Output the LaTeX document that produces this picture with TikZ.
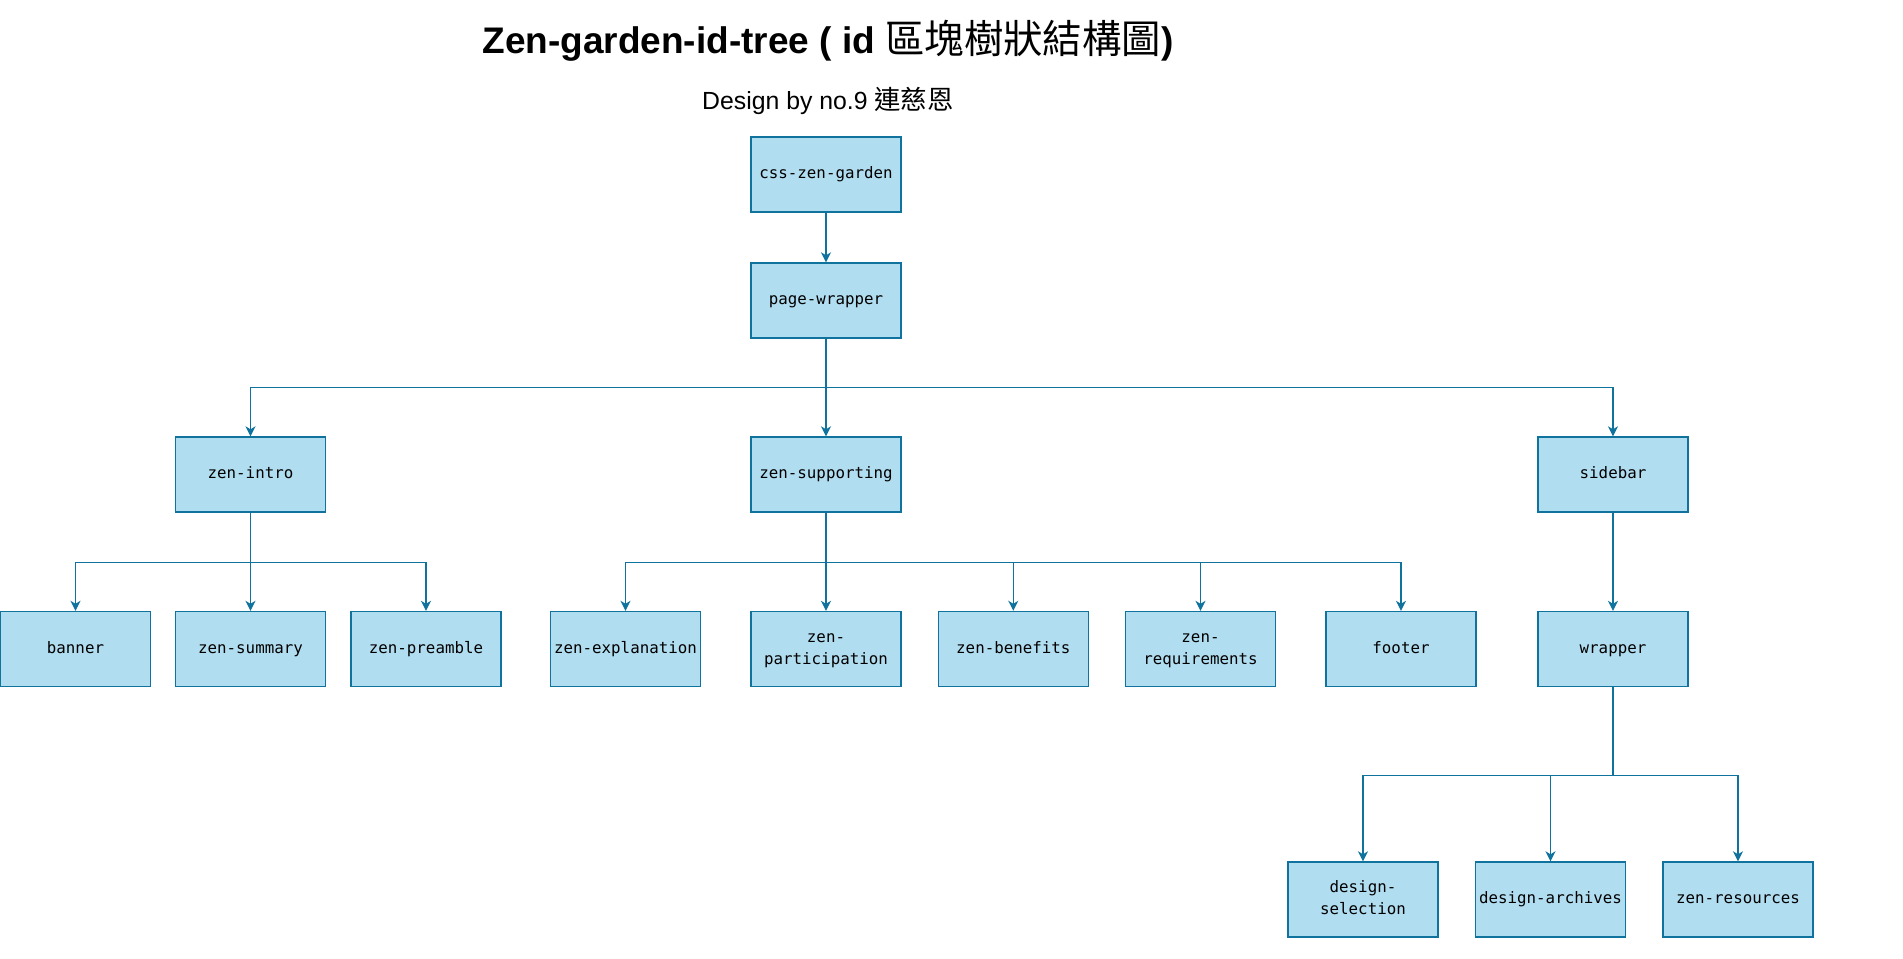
\documentclass[tikz,border=0pt]{standalone}
\usepackage{fontspec}
\setmainfont{Liberation Sans}
\setmonofont{DejaVu Sans Mono}
\newfontfamily\cjk[Scale=1.065]{Noto Sans CJK TC}
\usetikzlibrary{arrows.meta}
\definecolor{idfill}{RGB}{177,221,240}
\definecolor{idline}{RGB}{16,115,158}

\begin{document}
\begin{tikzpicture}[x=0.5pt,y=-0.5pt,
  idbox/.style={draw=idline,fill=idfill,line width=0.7pt,minimum width=75pt,minimum height=37.5pt,inner sep=1pt,text height=6.3pt,text depth=2pt,align=center,font=\ttfamily\fontsize{7.9}{10.85}\selectfont},
  idpair/.style={idbox,text height=17.15pt},
  link/.style={draw=idline,line width=0.65pt,-{Stealth[length=5pt,width=5pt,inset=1.5pt]}}]
\useasboundingbox (0,0) rectangle (1903,959);
\node [anchor=base,font=\bfseries\fontsize{18.5}{22}\selectfont] (title) at (828,53)
{Zen-garden-id-tree ( id {\cjk\mdseries 區塊樹狀結構圖})};
\node [anchor=base,font=\fontsize{12.4}{15}\selectfont] (author) at (828,109)
{Design by no.9 {\cjk 連慈恩}};

\node [idbox] (garden) at (826,174.5) {css-zen-garden};
\node [idbox] (pagewrap) at (826,300.5) {page-wrapper};

\node [idbox] (intro) at (250.5,474.5) {zen-intro};
\node [idbox] (supporting) at (826,474.5) {zen-supporting};
\node [idbox] (sidebar) at (1613,474.5) {sidebar};

\node [idbox] (banner) at (75.5,649) {banner};
\node [idbox] (summary) at (250.5,649) {zen-summary};
\node [idbox] (preamble) at (426,649) {zen-preamble};
\node [idbox] (explanation) at (625.5,649) {zen-explanation};
\node [idpair] (participation) at (826,649) {zen-\\participation};
\node [idbox] (benefits) at (1013.3,649) {zen-benefits};
\node [idpair] (requirements) at (1200.5,649) {zen-\\requirements};
\node [idbox] (footer) at (1401,649) {footer};
\node [idbox] (wrapper) at (1613,649) {wrapper};

\node [idpair] (selection) at (1363,899.5) {design-\\selection};
\node [idbox] (archives) at (1550.5,899.5) {design-archives};
\node [idbox] (resources) at (1738,899.5) {zen-resources};

\draw [link] (garden) -- (pagewrap);
\draw [link] (pagewrap.south) -- ++(0,49) -| (intro.north);
\draw [link] (pagewrap) -- (supporting);
\draw [link] (pagewrap.south) -- ++(0,49) -| (sidebar.north);

\draw [link] (intro.south) -- ++(0,50) -| (banner.north);
\draw [link] (intro) -- (summary);
\draw [link] (intro.south) -- ++(0,50) -| (preamble.north);

\draw [link] (supporting.south) -- ++(0,50) -| (explanation.north);
\draw [link] (supporting) -- (participation);
\draw [link] (supporting.south) -- ++(0,50) -| (benefits.north);
\draw [link] (supporting.south) -- ++(0,50) -| (requirements.north);
\draw [link] (supporting.south) -- ++(0,50) -| (footer.north);

\draw [link] (sidebar) -- (wrapper);

\draw [link] (wrapper.south) -- ++(0,88) -| (selection.north);
\draw [link] (wrapper.south) -- ++(0,88) -| (archives.north);
\draw [link] (wrapper.south) -- ++(0,88) -| (resources.north);
\end{tikzpicture}
\end{document}
